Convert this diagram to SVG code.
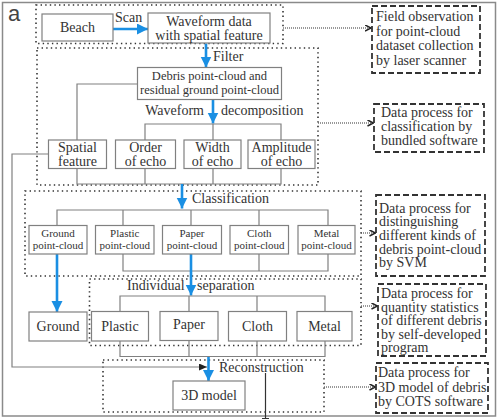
<svg xmlns="http://www.w3.org/2000/svg" width="500" height="420" viewBox="0 0 500 420">
<defs>
<style>
.frame{fill:#fff;stroke:#8a8a8a;stroke-width:1.5}
.box{fill:#fff;stroke:#808080;stroke-width:1.2}
.grp{fill:none;stroke:#333;stroke-width:1.6;stroke-dasharray:1.4 3.2}
.note{fill:#fff;stroke:#333;stroke-width:1.8;stroke-dasharray:6 3}
.ln{fill:none;stroke:#808080;stroke-width:1.2}
.blue{fill:none;stroke:#1a8fe3;stroke-width:2.6}
.dot{fill:none;stroke:#333;stroke-width:1.1;stroke-dasharray:1 1}
.blk{fill:none;stroke:#333;stroke-width:1.2}
text{font-family:"Liberation Serif","Times New Roman",serif;fill:#333;font-size:14px}
.c{text-anchor:middle}
.s{font-size:11px}
.m{font-size:12.5px}
</style>
<marker id="ab" markerUnits="userSpaceOnUse" markerWidth="12" markerHeight="12" refX="11" refY="5.5" orient="auto"><path d="M0,0 L11,5.5 L0,11 z" fill="#1a8fe3"/></marker>
<marker id="ad" markerUnits="userSpaceOnUse" markerWidth="8" markerHeight="8" refX="6.5" refY="3.5" orient="auto"><path d="M0.5,0.5 L6.5,3.5 L0.5,6.5" fill="none" stroke="#222" stroke-width="1.5"/></marker>
<marker id="ak" markerUnits="userSpaceOnUse" markerWidth="9" markerHeight="9" refX="8" refY="3.5" orient="auto"><path d="M0,0 L8,3.5 L0,7 z" fill="#222"/></marker>
</defs>

<rect class="frame" x="2.5" y="2.5" width="493" height="413.5"/>
<text x="8" y="21" style="font-family:'Liberation Sans',Arial,sans-serif;font-size:22px;fill:#444">a</text>

<g id="groups">
<rect class="grp" x="36" y="5" width="247" height="38.5"/>
<rect class="grp" x="37" y="48" width="281" height="137"/>
<rect class="grp" x="25" y="191" width="336" height="85"/>
<rect class="grp" x="89.5" y="279" width="271.5" height="66.5"/>
<rect class="grp" x="103" y="360" width="221" height="52"/>
</g>

<g id="connectors">
<line class="blue" x1="113" y1="29" x2="148" y2="29" marker-end="url(#ab)"/>
<line class="blue" x1="206" y1="43.5" x2="206" y2="67.5" marker-end="url(#ab)"/>
<path class="ln" d="M137.5,84 H77 V140"/>
<line class="blue" x1="213" y1="99.5" x2="213" y2="123.5" marker-end="url(#ab)"/>
<path class="ln" d="M145,140 V124 H281 V140 M213,124 V140"/>
<path class="ln" d="M77,168.5 V184 H281 V168.5 M145,168.5 V184 M213,168.5 V184"/>
<line class="blue" x1="182" y1="184" x2="182" y2="208.5" marker-end="url(#ab)"/>
<path class="ln" d="M57,225.5 V210 H328 V225.5 M123,210 V225.5 M191,210 V225.5 M259,210 V225.5"/>
<path class="ln" d="M123,254 V271 H328 V254 M259,254 V271"/>
<line class="blue" x1="191" y1="254" x2="191" y2="295.5" marker-end="url(#ab)"/>
<line class="blue" x1="57" y1="254" x2="57" y2="312" marker-end="url(#ab)"/>
<path class="ln" d="M120,311.5 V296 H325 V311.5 M189,296 V311.5 M257,296 V311.5"/>
<path class="ln" d="M120,341 V356.5 H325 V341 M189,341 V356.5 M257,341 V356.5"/>
<line class="blue" x1="208.5" y1="357" x2="208.5" y2="381" marker-end="url(#ab)"/>
<path class="ln" d="M48.5,154 H12 V367 H207" marker-end="url(#ak)"/>
<path class="blk" d="M265.5,373 V419 M262,418.5 H269"/>
<line class="dot" x1="283" y1="28" x2="371" y2="28" marker-end="url(#ad)"/>
<line class="dot" x1="318" y1="123" x2="373.5" y2="123" marker-end="url(#ad)"/>
<line class="dot" x1="361" y1="233" x2="375.5" y2="233" marker-end="url(#ad)"/>
<line class="dot" x1="361" y1="306" x2="377.5" y2="306" marker-end="url(#ad)"/>
<line class="dot" x1="324" y1="387" x2="375.5" y2="387" marker-end="url(#ad)"/>
</g>

<g id="labels">
<text x="115" y="22">Scan</text>
<text x="213" y="61">Filter</text>
<text x="204" y="115" text-anchor="end">Waveform</text>
<text x="221" y="115">decomposition</text>
<text x="192" y="203">Classification</text>
<text x="127" y="290">Individual</text>
<text x="197" y="290">separation</text>
<text x="219" y="372">Reconstruction</text>
</g>

<g id="beach"><rect class="box" x="42" y="14" width="71" height="27"/><text class="c" x="77.5" y="32">Beach</text></g>
<g id="waveform"><rect class="box" x="148" y="13" width="122" height="30"/><text class="c" x="209" y="26">Waveform data</text><text class="c" x="209" y="40">with spatial feature</text></g>
<g id="debris"><rect class="box" x="137.5" y="67.5" width="144" height="32"/><text class="c m" x="209.5" y="79.5">Debris point-cloud and</text><text class="c m" x="209.5" y="93.5">residual ground point-cloud</text></g>
<g id="spatial"><rect class="box" x="48.5" y="140" width="58" height="28.5"/><text class="c" x="77.5" y="152">Spatial</text><text class="c" x="77.5" y="166">feature</text></g>
<g id="order"><rect class="box" x="115.5" y="140" width="60" height="28.5"/><text class="c" x="145.5" y="152">Order</text><text class="c" x="145.5" y="166">of echo</text></g>
<g id="width"><rect class="box" x="184" y="140" width="57" height="28.5"/><text class="c" x="212.5" y="152">Width</text><text class="c" x="212.5" y="166">of echo</text></g>
<g id="amplitude"><rect class="box" x="248" y="140" width="67" height="28.5"/><text class="c" x="281.5" y="152">Amplitude</text><text class="c" x="281.5" y="166">of echo</text></g>

<g id="ground-pc"><rect class="box" x="29" y="225.5" width="58" height="28.5"/><text class="c s" x="58" y="236.5">Ground</text><text class="c s" x="58" y="249">point-cloud</text></g>
<g id="plastic-pc"><rect class="box" x="95.5" y="225.5" width="58.5" height="28.5"/><text class="c s" x="124.75" y="236.5">Plastic</text><text class="c s" x="124.75" y="249">point-cloud</text></g>
<g id="paper-pc"><rect class="box" x="162.5" y="225.5" width="59" height="28.5"/><text class="c s" x="192" y="236.5">Paper</text><text class="c s" x="192" y="249">point-cloud</text></g>
<g id="cloth-pc"><rect class="box" x="230" y="225.5" width="58.5" height="28.5"/><text class="c s" x="259.25" y="236.5">Cloth</text><text class="c s" x="259.25" y="249">point-cloud</text></g>
<g id="metal-pc"><rect class="box" x="298" y="225.5" width="57" height="28.5"/><text class="c s" x="326.5" y="236.5">Metal</text><text class="c s" x="326.5" y="249">point-cloud</text></g>

<g id="ground"><rect class="box" x="29" y="312" width="58" height="29"/><text class="c" x="58" y="330.5">Ground</text></g>
<g id="plastic"><rect class="box" x="91.5" y="311.5" width="57" height="29.5"/><text class="c" x="120" y="330.5">Plastic</text></g>
<g id="paper"><rect class="box" x="160" y="311.5" width="58" height="29"/><text class="c" x="189" y="329">Paper</text></g>
<g id="cloth"><rect class="box" x="228.5" y="311.5" width="58" height="29.5"/><text class="c" x="257.5" y="330.5">Cloth</text></g>
<g id="metal"><rect class="box" x="297" y="311.5" width="55" height="29.5"/><text class="c" x="324.5" y="330.5">Metal</text></g>

<g id="model3d"><rect class="box" x="173" y="381" width="72" height="29"/><text class="c" x="209" y="400">3D model</text></g>

<g id="note1"><rect class="note" x="372" y="6" width="108" height="67"/><text x="376" y="21">Field observation</text><text x="376" y="35.5">for point-cloud</text><text x="376" y="50">dataset collection</text><text x="376" y="64.5">by laser scanner</text></g>
<g id="note2"><rect class="note" x="374" y="104" width="110" height="48"/><text x="381" y="116.5">Data process for</text><text x="381" y="130.5">classification by</text><text x="381" y="144.5">bundled software</text></g>
<g id="note3"><rect class="note" x="376" y="195" width="109" height="81"/><text x="379" y="212.5">Data process for</text><text x="379" y="226">distinguishing</text><text x="379" y="240">different kinds of</text><text x="379" y="253.5">debris point-cloud</text><text x="379" y="267">by SVM</text></g>
<g id="note4"><rect class="note" x="378" y="284" width="108" height="72"/><text x="381" y="298">Data process for</text><text x="381" y="311.5">quantity statistics</text><text x="381" y="325">of different debris</text><text x="381" y="338.5">by self-developed</text><text x="381" y="352">program</text></g>
<g id="note5"><rect class="note" x="376" y="363" width="112" height="50"/><text x="378" y="377">Data process for</text><text x="378" y="391.5">3D model of debris</text><text x="378" y="406">by COTS software</text></g>
</svg>
